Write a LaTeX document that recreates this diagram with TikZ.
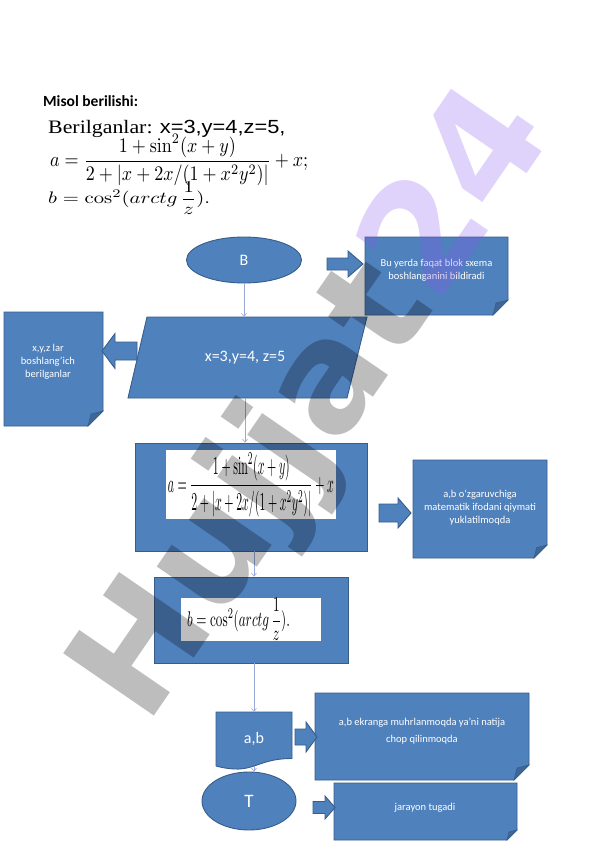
\documentclass[tikz,border=0pt]{standalone}
\usepackage[no-math]{fontspec}
\usepackage{graphicx}
\usepackage{amsmath}
\setmainfont{Carlito}
\newfontfamily\wmfont{DejaVu Sans}
\newfontfamily\timesf{Liberation Serif}
\newfontfamily\arialf{Liberation Sans}
\usetikzlibrary{arrows.meta,shapes.geometric}
\definecolor{bfill}{HTML}{4F81BD}
\definecolor{bedge}{HTML}{385D8A}
\definecolor{bfold}{HTML}{3E6696}
\definecolor{connc}{HTML}{9AA8D8}
\definecolor{wmviolet}{HTML}{8A55F0}
\tikzset{
 blueshape/.style={fill=bfill, draw=bedge, line width=0.9pt},
 flowtxt/.style={text=white, font=\fontsize{16}{19}\selectfont},
 notetxt/.style={text=white, align=center, font=\fontsize{10.5}{13}\selectfont},
 flowline/.style={draw=connc, line width=0.6pt, -{Straight Barb[length=3pt,width=5pt]}},
}
\newcommand\foldnote[5]{%
  \path[blueshape] (#1,#2) -- (#3,#2) -- ({#3},{#4-#5}) -- ({#3-#5},{#4}) -- (#1,#4) -- cycle;
  \fill[bfold, draw=bedge, line width=0.6pt] ({#3-#5},{#4}) -- ({#3},{#4-#5}) -- ({#3-0.8*#5},{#4-0.8*#5}) -- cycle;}
\newcommand\blockarrow[6]{%
  \path[blueshape] ({#1},{#3-#4}) -- ({#2-(#6)},{#3-#4}) -- ({#2-(#6)},{#3-#5}) -- ({#2},{#3})
   -- ({#2-(#6)},{#3+#5}) -- ({#2-(#6)},{#3+#4}) -- ({#1},{#3+#4}) -- cycle;}
\begin{document}
\begin{tikzpicture}[x=1pt,y=-1pt]
\useasboundingbox[fill=white] (0,0) rectangle (596,842);

% heading and given data
\node[anchor=base west, font=\bfseries\fontsize{15.5}{18}\selectfont, inner sep=0] (title) at (43,107) {Misol berilishi:};
\node[anchor=base west, inner sep=0] (given) at (48,134) {\scalebox{1.15}[1]{\timesf\fontsize{19}{22}\selectfont Berilganlar: \arialf x=3,y=4,z=5,}};
\node[anchor=west, inner sep=0] (ga) at (50,160) {\resizebox{258pt}{32pt}{$a=\dfrac{1+\sin^{2}(x+y)}{2+\left|x+2x/(1+x^{2}y^{2})\right|}+x;$}};
\node[anchor=west, inner sep=0] (gb) at (48,198) {\resizebox{162pt}{22pt}{$b=\cos^{2}(arctg\,\dfrac{1}{z}).$}};

% flowchart shapes
\node[ellipse, blueshape, minimum width=115pt, minimum height=46pt, flowtxt] (B) at (244,260) {B};

\path[blueshape] (147,317) -- (367,317) -- (347,398) -- (128,398) -- cycle;
\node[flowtxt, minimum width=200pt, minimum height=81pt] (P) at (245,357.5) {x=3,y=4, z=5};

\node[rectangle, blueshape, minimum width=232pt, minimum height=108pt] (R1) at (251,497) {};
\node[fill=white, minimum width=170pt, minimum height=45pt, inner sep=2pt] (F1) at (251,484.5)
  {\resizebox{166pt}{40pt}{$a=\dfrac{1+\sin^{2}(x+y)}{2+\left|x+2x/(1+x^{2}y^{2})\right|}+x$}};

\node[rectangle, blueshape, minimum width=194pt, minimum height=86pt] (R2) at (251,620) {};
\node[fill=white, minimum width=140pt, minimum height=37pt, inner sep=0] (F2) at (251,619.5)
  {\makebox[140pt][l]{\hspace{6pt}\resizebox{103pt}{28pt}{$b=\cos^{2}(arctg\,\dfrac{1}{z}).$}}};

\path[blueshape] (216,712) -- (292,712) -- (292,758.5) .. controls (254,758.5) and (254,776) .. (216,766) -- cycle;
\node[flowtxt, minimum width=76pt, minimum height=54pt, inner sep=0] (D) at (254,739) {a,b};

\node[ellipse, blueshape, minimum width=94pt, minimum height=58pt, flowtxt, font=\fontsize{19}{22}\selectfont] (T) at (249,801) {T};

% connectors
\draw[flowline] (B.south) -- (B.south |- P.north);
\draw[flowline] (P.south) -- (P.south |- R1.north);
\draw[flowline] ([xshift=3pt]R1.south) -- ([xshift=3pt]R1.south |- R2.north);
\draw[flowline] (D.north |- R2.south) -- (D.north);
\draw[flowline] (D.south) -- (D.south |- T.north);

% notes
\foldnote{365}{237}{508}{315}{15}
\node[notetxt] (n1) at (436.5,270) {Bu yerda faqat blok sxema\\boshlanganini bildiradi};
\foldnote{4}{312}{103}{426}{15}
\node[notetxt] (n2) at (48,362) {x,y,z lar\\boshlang’ich\\berilganlar};
\foldnote{413}{460}{547}{558}{13}
\node[notetxt] (n3) at (480,508) {a,b o‘zgaruvchiga\\matematik ifodani qiymati\\yuklatilmoqda};
\foldnote{315}{693}{529}{780}{15}
\node[notetxt, font=\fontsize{10.5}{17}\selectfont] (n4) at (422,731) {a,b ekranga muhrlanmoqda ya’ni natija\\chop qilinmoqda};
\foldnote{334}{783}{517}{840}{10}
\node[notetxt] (n5) at (425,808) {jarayon tugadi};

% block arrows
\blockarrow{327}{363}{264}{6}{13}{15}
\blockarrow{137}{102}{351}{9}{17.5}{-13}
\blockarrow{379}{411}{513}{9}{15}{13}
\blockarrow{295}{317}{737}{8}{15}{11}
\blockarrow{313}{335}{807.5}{6}{11.5}{10}

% watermark
\node[rotate=55.5, text opacity=0.26, font=\wmfont\bfseries\fontsize{151}{151}\selectfont, inner sep=0] (wm) at (317,407) {\color{black}Hujjat\color{wmviolet}24};
\end{tikzpicture}
\end{document}
